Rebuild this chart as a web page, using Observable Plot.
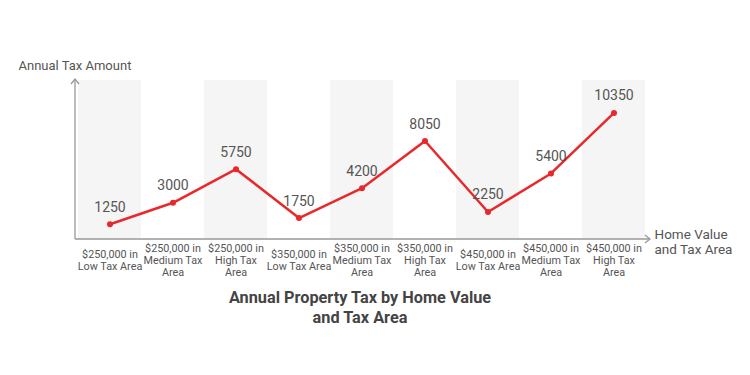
<!DOCTYPE html>
<html>
<head>
<meta charset="utf-8">
<script src="https://cdn.jsdelivr.net/npm/d3@7"></script>
<script src="https://cdn.jsdelivr.net/npm/@observablehq/plot@0.6"></script>
<style>
  body { margin: 0; background: #fff; font-family: Roboto, "Noto Sans", sans-serif; }
  #title { width: 720px; text-align: center; font-weight: bold; font-size: 16.3px; line-height: 20px; color: #444; padding-top: 5px; }
</style>
</head>
<body>
<div id="chart"></div>
<div id="title">Annual Property Tax by Home Value<br>and Tax Area</div>
<script>
const categories = [
  "$250,000 in Low Tax Area", "$250,000 in Medium Tax Area", "$250,000 in High Tax Area",
  "$350,000 in Low Tax Area", "$350,000 in Medium Tax Area", "$350,000 in High Tax Area",
  "$450,000 in Low Tax Area", "$450,000 in Medium Tax Area", "$450,000 in High Tax Area"
];
const tickLabels = [
  "$250,000 in\nLow Tax Area", "$250,000 in\nMedium Tax\nArea", "$250,000 in\nHigh Tax\nArea",
  "$350,000 in\nLow Tax Area", "$350,000 in\nMedium Tax\nArea", "$350,000 in\nHigh Tax\nArea",
  "$450,000 in\nLow Tax Area", "$450,000 in\nMedium Tax\nArea", "$450,000 in\nHigh Tax\nArea"
];
const taxAmounts = [1250, 3000, 5750, 1750, 4200, 8050, 2250, 5400, 10350];
const yMax = 13000;
const yLabel = "Annual Tax Amount";
const xLabel = "Home Value\nand Tax Area";

const data = categories.map((c, i) => ({category: c, tax: taxAmounts[i], label: tickLabels[i]}));
const shaded = categories.filter((d, i) => i % 2 === 0);

const chart = Plot.plot({
  width: 750,
  height: 283,
  marginLeft: 76,
  marginRight: 103,
  marginTop: 80,
  marginBottom: 44,
  style: {fontFamily: "Roboto, 'Noto Sans', sans-serif", background: "transparent"},
  x: {domain: categories, padding: 0, axis: null},
  y: {domain: [0, yMax], axis: null},
  marks: [
    Plot.barY(shaded, {x: d => d, y: () => yMax, fill: "#f5f5f5"}),
    Plot.line(data, {x: "category", y: "tax", stroke: "#e8282b", strokeWidth: 2.5}),
    Plot.dot(data, {x: "category", y: "tax", r: 3, fill: "#e8282b"}),
    Plot.text(data, {x: "category", y: "tax", text: d => String(d.tax), dy: -17, fontSize: 14, fill: "#555"}),
    Plot.text(data, {x: "category", text: "label", frameAnchor: "bottom", lineAnchor: "middle", dy: 21, fontSize: 10.8, lineHeight: 1.12, fill: "#555"}),
    Plot.text([yLabel], {frameAnchor: "top-left", textAnchor: "start", dx: -58, dy: -20, fontSize: 13, fill: "#555"}),
    Plot.text([xLabel], {frameAnchor: "bottom-right", textAnchor: "start", lineAnchor: "middle", dx: 7, dy: 2, fontSize: 13.5, lineHeight: 1.1, fill: "#555"})
  ]
});

document.getElementById("chart").appendChild(chart);

// axes with arrowheads, positioned from the scales
const ys = chart.scale("y");
const xs = chart.scale("x");
const x0 = xs.range[0] - 1;
const xEnd = xs.range[1] + 3;
const y0 = ys.apply(0);
const yTop = ys.apply(yMax) - 1;
const g = d3.select(chart).append("g").attr("fill", "none").attr("stroke", "#999").attr("stroke-width", 1.3);
g.append("path").attr("d", `M${x0},${y0}V${yTop}`);
g.append("path").attr("d", `M${x0 - 4},${yTop + 5}L${x0},${yTop}L${x0 + 4},${yTop + 5}`);
g.append("path").attr("d", `M${x0},${y0}H${xEnd}`);
g.append("path").attr("d", `M${xEnd - 5},${y0 - 4}L${xEnd},${y0}L${xEnd - 5},${y0 + 4}`);
</script>
</body>
</html>
